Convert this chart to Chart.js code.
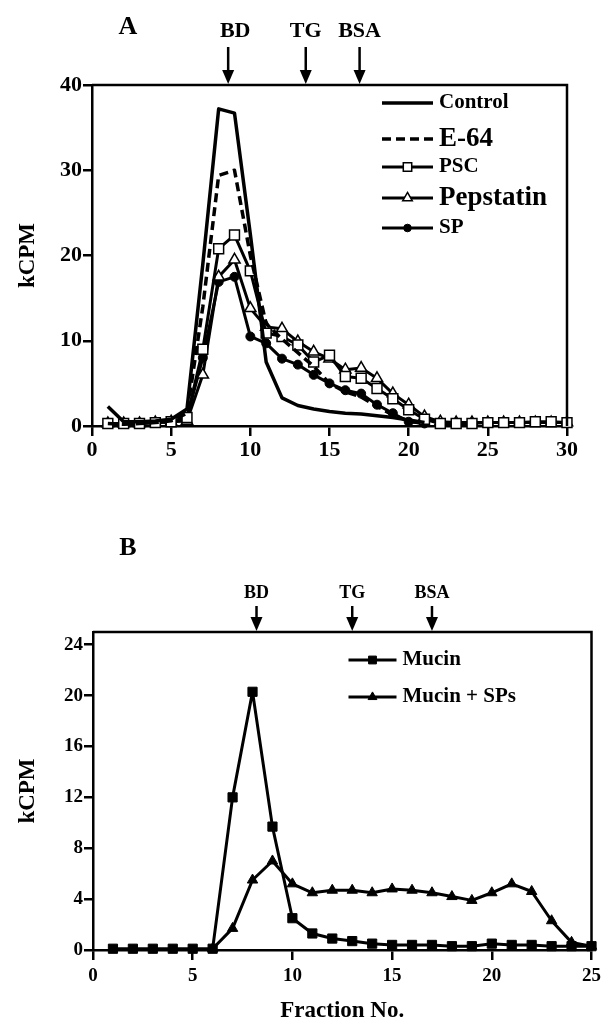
<!DOCTYPE html>
<html>
<head>
<meta charset="utf-8">
<script src="https://cdn.jsdelivr.net/npm/chart.js@4.4.1/dist/chart.umd.min.js"></script>
<style>
  body { margin: 0; background: #fff; }
  canvas { display: block; }
</style>
</head>
<body>
<canvas id="chartA" width="606" height="500"></canvas>
<canvas id="chartB" width="606" height="529"></canvas>
<script>
// Panel A data (fraction number vs kCPM)
const fractionsA = [1, 2, 3, 4, 5, 6, 7, 8, 9, 10, 11, 12, 13, 14, 15, 16, 17, 18, 19, 20, 21, 22, 23, 24, 25, 26, 27, 28, 29, 30];
const controlA   = [2.3, 0.5, 0.5, 0.6, 0.8, 2.0, 19.0, 37.2, 36.7, 22.5, 7.5, 3.3, 2.4, 2.0, 1.7, 1.5, 1.4, 1.2, 1.0, 0.7, 0.4];
const e64A       = [0.3, 0.2, 0.3, 0.4, 0.6, 1.5, 14.0, 29.4, 30.0, 20.0, 12.0, 10.2, 8.6, 7.0, 5.0, 4.0, 3.4, 2.3, 1.3, 0.6, 0.3];
const pscA       = [0.3, 0.3, 0.3, 0.4, 0.5, 1.0, 9.0, 20.8, 22.4, 18.2, 10.9, 10.5, 9.5, 7.5, 8.3, 5.8, 5.6, 4.4, 3.2, 1.9, 0.8, 0.3, 0.3, 0.3, 0.4, 0.4, 0.4, 0.5, 0.5, 0.4];
const pepstatinA = [0.3, 0.3, 0.3, 0.4, 0.5, 0.6, 6.0, 17.5, 19.5, 13.8, 11.6, 11.4, 9.9, 8.7, 7.9, 6.6, 6.8, 5.6, 3.8, 2.5, 1.1, 0.5, 0.4, 0.4, 0.4, 0.4, 0.4, 0.4, 0.4, 0.4];
const spA        = [0.3, 0.3, 0.3, 0.4, 0.5, 1.0, 8.0, 16.9, 17.5, 10.5, 9.7, 7.9, 7.2, 6.0, 5.0, 4.2, 3.8, 2.5, 1.5, 0.5, 0.3];
const markersA   = ['BD', 'TG', 'BSA'];
const markerPosA = [8.6, 13.5, 16.9];

// Panel B data
const fractionsB   = [1, 2, 3, 4, 5, 6, 7, 8, 9, 10, 11, 12, 13, 14, 15, 16, 17, 18, 19, 20, 21, 22, 23, 24, 25];
const mucinB       = [0.1, 0.1, 0.1, 0.1, 0.1, 0.1, 12.0, 20.3, 9.7, 2.5, 1.3, 0.9, 0.7, 0.5, 0.4, 0.4, 0.4, 0.3, 0.3, 0.5, 0.4, 0.4, 0.3, 0.3, 0.3];
const fractionsSPB = [6, 7, 8, 9, 10, 11, 12, 13, 14, 15, 16, 17, 18, 19, 20, 21, 22, 23, 24, 25];
const mucinSPsB    = [0.1, 1.7, 5.5, 7.0, 5.2, 4.5, 4.7, 4.7, 4.5, 4.8, 4.7, 4.5, 4.2, 3.9, 4.5, 5.2, 4.6, 2.3, 0.6, 0.3];
const markersB     = ['BD', 'TG', 'BSA'];
const markerPosB   = [8.2, 13, 17];

const SERIF = '"Liberation Serif", "Times New Roman", serif';

function pairs(xs, ys) {
  return ys.map((y, i) => ({ x: xs[i], y: y }));
}

// frame, panel letter, marker arrows and in-plot legend
function decor(cfg) {
  return {
    id: 'decor',
    afterDraw(chart) {
      const ctx = chart.ctx;
      const a = chart.chartArea;
      ctx.save();
      ctx.strokeStyle = '#000';
      ctx.fillStyle = '#000';
      ctx.lineWidth = 2.5;
      ctx.beginPath();
      ctx.moveTo(a.left, a.top);
      ctx.lineTo(a.right, a.top);
      ctx.lineTo(a.right, a.bottom);
      ctx.stroke();

      ctx.textAlign = 'center';
      ctx.textBaseline = 'middle';
      ctx.font = 'bold 26px ' + SERIF;
      ctx.fillText(cfg.letter, cfg.letterX, cfg.letterY);

      ctx.font = 'bold ' + cfg.markFont + 'px ' + SERIF;
      cfg.marks.forEach((lab, i) => {
        const x = chart.scales.x.getPixelForValue(cfg.markPos[i]);
        ctx.fillText(lab, x + (cfg.markShift[i] || 0), cfg.markY);
        ctx.lineWidth = 2.5;
        ctx.beginPath();
        ctx.moveTo(x, cfg.shaftTop);
        ctx.lineTo(x, a.top - 10);
        ctx.stroke();
        ctx.beginPath();
        ctx.moveTo(x - 6, a.top - 15);
        ctx.lineTo(x + 6, a.top - 15);
        ctx.lineTo(x, a.top - 1);
        ctx.closePath();
        ctx.fill();
      });

      cfg.legend.forEach(row => {
        const ds = chart.data.datasets[row.ds];
        const x0 = a.right - cfg.legX0, x1 = a.right - cfg.legX1;
        const y = a.top + row.dy;
        ctx.save();
        ctx.strokeStyle = '#000';
        ctx.lineWidth = ds.borderWidth;
        ctx.setLineDash(ds.borderDash || []);
        ctx.beginPath();
        ctx.moveTo(x0, y);
        ctx.lineTo(x1, y);
        ctx.stroke();
        ctx.restore();
        if (ds.pointRadius > 0) {
          ctx.fillStyle = ds.pointBackgroundColor;
          ctx.strokeStyle = '#000';
          ctx.lineWidth = ds.pointBorderWidth;
          Chart.helpers.drawPoint(ctx, {
            pointStyle: ds.pointStyle, radius: ds.pointRadius * 0.85,
            rotation: 0, borderWidth: ds.pointBorderWidth
          }, (x0 + x1) / 2, y);
        }
        ctx.fillStyle = '#000';
        ctx.textAlign = 'left';
        ctx.font = 'bold ' + row.size + 'px ' + SERIF;
        ctx.fillText(ds.label, x1 + 6, y);
      });
      ctx.restore();
    }
  };
}

function axes(xmax, xstep, ymax, ystep, tickSize, yWidth, xHeight, xPad, xTitle) {
  const tickFont = { family: SERIF, weight: 'bold', size: tickSize };
  return {
    x: {
      type: 'linear', min: 0, max: xmax,
      ticks: { stepSize: xstep, color: '#000', font: tickFont, padding: xPad, maxRotation: 0 },
      grid: { drawOnChartArea: false, tickLength: 10, color: '#000', lineWidth: 2.5 },
      border: { color: '#000', width: 2.5 },
      title: xTitle ? { display: true, text: xTitle, color: '#000',
        font: { family: SERIF, weight: 'bold', size: 23 }, padding: { top: 0, bottom: 4 } } : { display: false },
      afterFit(s) { s.height = xHeight; }
    },
    y: {
      min: 0, max: ymax,
      ticks: { stepSize: ystep, color: '#000', font: tickFont, padding: 1, includeBounds: false },
      grid: { drawOnChartArea: false, tickLength: 9, color: '#000', lineWidth: 2.5 },
      border: { color: '#000', width: 2.5 },
      title: { display: true, text: 'kCPM', color: '#000',
        font: { family: SERIF, weight: 'bold', size: 23 }, padding: { top: 14, bottom: 0 } },
      afterFit(s) { s.width = yWidth; }
    }
  };
}

new Chart(document.getElementById('chartA'), {
  type: 'line',
  data: {
    datasets: [
      { label: 'Control', data: pairs(fractionsA, controlA), borderColor: '#000', borderWidth: 3.5,
        pointRadius: 0, tension: 0, borderJoinStyle: 'round' },
      { label: 'E-64', data: pairs(fractionsA, e64A), borderColor: '#000', borderWidth: 3.5,
        borderDash: [9, 5], pointRadius: 0, tension: 0, borderJoinStyle: 'round' },
      { label: 'PSC', data: pairs(fractionsA, pscA), borderColor: '#000', borderWidth: 3,
        pointStyle: 'rect', pointRadius: 7, pointBackgroundColor: '#fff', pointBorderColor: '#000',
        pointBorderWidth: 1.5, tension: 0, borderJoinStyle: 'round' },
      { label: 'Pepstatin', data: pairs(fractionsA, pepstatinA), borderColor: '#000', borderWidth: 3,
        pointStyle: 'triangle', pointRadius: 6.5, pointBackgroundColor: '#fff', pointBorderColor: '#000',
        pointBorderWidth: 1.5, tension: 0, borderJoinStyle: 'round' },
      { label: 'SP', data: pairs(fractionsA, spA), borderColor: '#000', borderWidth: 3,
        pointStyle: 'circle', pointRadius: 4.5, pointBackgroundColor: '#000', pointBorderColor: '#000',
        pointBorderWidth: 1, tension: 0, borderJoinStyle: 'round' }
    ]
  },
  options: {
    responsive: false, animation: false,
    layout: { padding: { top: 85, right: 39, bottom: 0, left: 0 } },
    plugins: { legend: { display: false }, tooltip: { enabled: false } },
    datasets: { line: { clip: false } },
    scales: axes(30, 5, 40, 10, 22, 92, 74, 1, null)
  },
  plugins: [decor({
    letter: 'A', letterX: 128, letterY: 27,
    marks: markersA, markPos: markerPosA, markShift: [7, 0, 0], markFont: 22, markY: 31, shaftTop: 47,
    legX0: 185, legX1: 134,
    legend: [
      { ds: 0, dy: 18, size: 21 },
      { ds: 1, dy: 54, size: 27 },
      { ds: 2, dy: 82, size: 21 },
      { ds: 3, dy: 113, size: 27 },
      { ds: 4, dy: 143, size: 21 }
    ]
  })]
});

new Chart(document.getElementById('chartB'), {
  type: 'line',
  data: {
    datasets: [
      { label: 'Mucin', data: pairs(fractionsB, mucinB), borderColor: '#000', borderWidth: 3,
        pointStyle: 'rect', pointRadius: 6.5, pointBackgroundColor: '#000', pointBorderColor: '#000',
        pointBorderWidth: 1, tension: 0, borderJoinStyle: 'round' },
      { label: 'Mucin + SPs', data: pairs(fractionsSPB, mucinSPsB), borderColor: '#000', borderWidth: 3,
        pointStyle: 'triangle', pointRadius: 6, pointBackgroundColor: '#000', pointBorderColor: '#000',
        pointBorderWidth: 1, tension: 0, borderJoinStyle: 'round' }
    ]
  },
  options: {
    responsive: false, animation: false,
    layout: { padding: { top: 132, right: 13, bottom: 0, left: 0 } },
    plugins: { legend: { display: false }, tooltip: { enabled: false } },
    datasets: { line: { clip: false } },
    scales: axes(25, 5, 25, 4, 19, 93, 79, 5, 'Fraction No.')
  },
  plugins: [decor({
    letter: 'B', letterX: 128, letterY: 48,
    marks: markersB, markPos: markerPosB, markShift: [0, 0, 0], markFont: 18, markY: 93, shaftTop: 106,
    legX0: 243, legX1: 195,
    legend: [
      { ds: 0, dy: 28, size: 21 },
      { ds: 1, dy: 65, size: 21 }
    ]
  })]
});
</script>
</body>
</html>
